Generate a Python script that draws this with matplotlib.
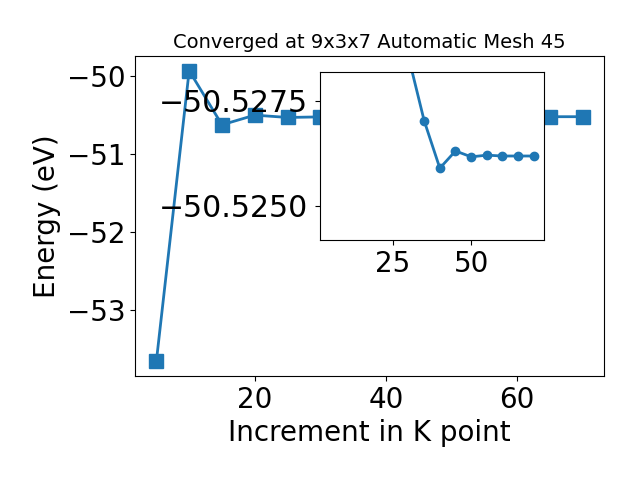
import matplotlib
matplotlib.use("Agg")
import matplotlib.pyplot as plt

# k-point increment and total energy (eV)
kpoints = [5, 10, 15, 20, 25, 30, 35, 40, 45, 50, 55, 60, 65, 70]
energy = [-53.664, -49.936, -50.630, -50.506, -50.536, -50.52855,
          -50.52703, -50.52590, -50.52631, -50.52617, -50.52621,
          -50.52619, -50.52619, -50.52619]

# inset only shows the tail of the scan
inset_start = 5
inset_xticks = [25, 50]
inset_yticks = [-50.5275, -50.5250]

TITLE = "Converged at 9x3x7 Automatic Mesh 45"
OUTPUT_IMAGE = "out.png"


def main():
    plt.rcParams['font.size'] = 20

    fig = plt.figure(figsize=(6.4, 4.8), dpi=100)
    ax = fig.add_subplot(111)
    fig.subplots_adjust(left=0.211, right=0.944, top=0.883, bottom=0.217)

    ax.plot(kpoints, energy, marker='s', markersize=10, linewidth=2)
    ax.set_title(TITLE, fontsize=14)
    ax.set_xlabel('Increment in K point')
    ax.set_ylabel('Energy (eV)')

    # zoomed inset around the converged value
    conv = energy[-1]
    ins = fig.add_axes([0.5, 0.5, 0.35, 0.35])
    ins.plot(kpoints[inset_start:], energy[inset_start:], marker='o', markersize=6, linewidth=2)
    ins.set_xlim(ax.get_xlim())
    ins.set_ylim(conv + 0.002, conv - 0.002)
    ins.set_xticks(inset_xticks)
    ins.set_yticks(inset_yticks)
    ins.ticklabel_format(axis='y', useOffset=False)
    ins.tick_params(axis='y', labelsize=21.5, pad=5)

    fig.savefig(OUTPUT_IMAGE)


if __name__ == "__main__":
    main()
